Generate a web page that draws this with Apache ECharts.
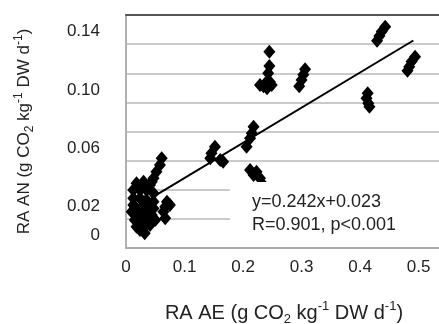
<!DOCTYPE html>
<html>
<head>
<meta charset="utf-8">
<script src="https://cdn.jsdelivr.net/npm/echarts@6/dist/echarts.min.js"></script>
<style>
  html, body { margin: 0; padding: 0; background: #fff; }
  #chart { width: 439px; height: 324px; }
</style>
</head>
<body>
<div id="chart"></div>
<script>
// measured points (RA AE, RA AN)
const ptX = [
  0.245, 0.245, 0.243, 0.229, 0.238, 0.246, 0.241, 0.249, 0.235,
  0.306, 0.303, 0.300, 0.296,
  0.218, 0.215, 0.212, 0.206,
  0.152, 0.146, 0.144, 0.166, 0.161,
  0.212, 0.223, 0.218, 0.229, 0.232,
  0.443, 0.437, 0.433, 0.429,
  0.494, 0.488, 0.484, 0.481,
  0.413, 0.411, 0.414, 0.416,
  0.061, 0.058, 0.052, 0.047, 0.044,
  0.070, 0.067, 0.064, 0.067, 0.075,
  0.018, 0.030, 0.041, 0.0125, 0.024, 0.035, 0.047, 0.0125, 0.024, 0.035,
  0.047, 0.015, 0.027, 0.038, 0.0097, 0.021, 0.032, 0.044, 0.015, 0.027,
  0.038, 0.050, 0.018, 0.030, 0.041, 0.032, 0.024, 0.0125, 0.047
];
const ptY = [
  0.1348, 0.125, 0.120, 0.112, 0.113, 0.114, 0.1097, 0.112, 0.111,
  0.1227, 0.119, 0.1154, 0.111,
  0.0833, 0.0788, 0.0753, 0.0696,
  0.0696, 0.065, 0.0616, 0.0593, 0.0604,
  0.0536, 0.0524, 0.0501, 0.0479, 0.0444,
  0.152, 0.1486, 0.1456, 0.1424,
  0.1314, 0.128, 0.1245, 0.1218,
  0.1062, 0.1028, 0.0994, 0.097,
  0.0616, 0.057, 0.0524, 0.0479, 0.0455,
  0.0318, 0.0284, 0.0249, 0.0204, 0.0295,
  0.0444, 0.0455, 0.0433, 0.0398, 0.0398, 0.0398, 0.0376, 0.0341, 0.0341, 0.033,
  0.0318, 0.0284, 0.0284, 0.0272, 0.0249, 0.0238, 0.0227, 0.0227, 0.0192, 0.018,
  0.018, 0.0192, 0.0146, 0.0135, 0.0158, 0.0101, 0.0124, 0.0295, 0.0272
];
// regression line end points
const fitX = [0.052, 0.491];
const fitY = [0.0365, 0.1425];
// tick labels
const yLabelValues = [0, 0.02, 0.06, 0.10, 0.14];
const yLabelTexts = ['0', '0.02', '0.06', '0.10', '0.14'];
const xLabelValues = [0, 0.1, 0.2, 0.3, 0.4, 0.5];
const xLabelTexts = ['0', '0.1', '0.2', '0.3', '0.4', '0.5'];
const fitText = ['y=0.242x+0.023', 'R=0.901, p<0.001'];

const font = 'Liberation Sans, Arial, sans-serif';
const txt = '#222';

const rich = {
  t: { fontSize: 20, fontFamily: font, color: txt, lineHeight: 26 },
  sub: { fontSize: 13, fontFamily: font, color: txt, lineHeight: 14, verticalAlign: 'bottom' },
  sup: { fontSize: 13, fontFamily: font, color: txt, lineHeight: 14, verticalAlign: 'top' }
};
const richY = {
  t: { fontSize: 17, fontFamily: font, color: txt, lineHeight: 23 },
  sub: { fontSize: 12, fontFamily: font, color: txt, lineHeight: 13, verticalAlign: 'bottom' },
  sup: { fontSize: 12, fontFamily: font, color: txt, lineHeight: 13, verticalAlign: 'top' }
};

const pickLabel = (vals, texts) => (v) => {
  const i = vals.findIndex(a => Math.abs(a - v) < 1e-9);
  return i >= 0 ? texts[i] : '';
};

const chart = echarts.init(document.getElementById('chart'));
const option = {
  animation: false,
  grid: { left: 126, top: 15, right: -3, bottom: 76, outerBoundsMode: 'none' },
  xAxis: [
    {
      type: 'value', min: 0, max: 0.54, interval: 0.1,
      axisLine: { lineStyle: { color: '#aaa', width: 2 } },
      axisTick: { show: false },
      splitLine: { show: false },
      axisLabel: {
        margin: 11, fontSize: 17, fontFamily: font, color: txt,
        showMaxLabel: false,
        formatter: pickLabel(xLabelValues, xLabelTexts)
      },
      name: '{t|RA AE (g CO}{sub|2}{t| kg}{sup|-1}{t| DW d}{sup|-1}{t|)}',
      nameLocation: 'middle',
      nameGap: 52,
      nameMoveOverlap: false,
      nameTextStyle: { rich: rich }
    },
    {
      type: 'value', min: 0, max: 0.54, position: 'top',
      axisLine: { show: true, lineStyle: { color: '#555', width: 2 } },
      axisTick: { show: false }, axisLabel: { show: false }, splitLine: { show: false }
    }
  ],
  yAxis: {
    type: 'value', min: 0, max: 0.16, interval: 0.02,
    axisLine: { show: true, lineStyle: { color: '#b0b0b0', width: 2 } },
    axisTick: { show: false },
    splitLine: { lineStyle: { color: '#b8b8b8', width: 1.5 } },
    axisLabel: {
      margin: 26, fontSize: 17, fontFamily: font, color: txt,
      verticalAlign: 'bottom', lineHeight: 25,
      formatter: pickLabel(yLabelValues, yLabelTexts)
    },
    name: '{t|RA AN (g CO}{sub|2}{t| kg}{sup|-1}{t| DW d}{sup|-1}{t|)}',
    nameLocation: 'middle',
    nameRotate: 90,
    nameGap: 90,
    nameMoveOverlap: false,
    nameTextStyle: { rich: richY }
  },
  series: [
    {
      type: 'scatter',
      symbol: 'diamond',
      symbolSize: [12, 14],
      itemStyle: { color: '#000', opacity: 1 },
      data: ptX.map((x, i) => [x, ptY[i]]),
      z: 3
    },
    {
      type: 'line',
      data: fitX.map((x, i) => [x, fitY[i]]),
      symbol: 'none',
      lineStyle: { color: '#000', width: 2 },
      z: 4
    }
  ],
  graphic: [
    {
      type: 'rect', left: 230, top: 182, z: 100,
      shape: { width: 215, height: 61 },
      style: { fill: '#fff' }
    },
    {
      type: 'text', left: 252, top: 191, z: 101,
      style: {
        text: fitText.join('\n'),
        fontSize: 18, fontFamily: font, fill: txt, lineHeight: 23
      }
    }
  ]
};
chart.setOption(option);
window.addEventListener('resize', () => {
  chart.resize();
});
</script>
</body>
</html>
